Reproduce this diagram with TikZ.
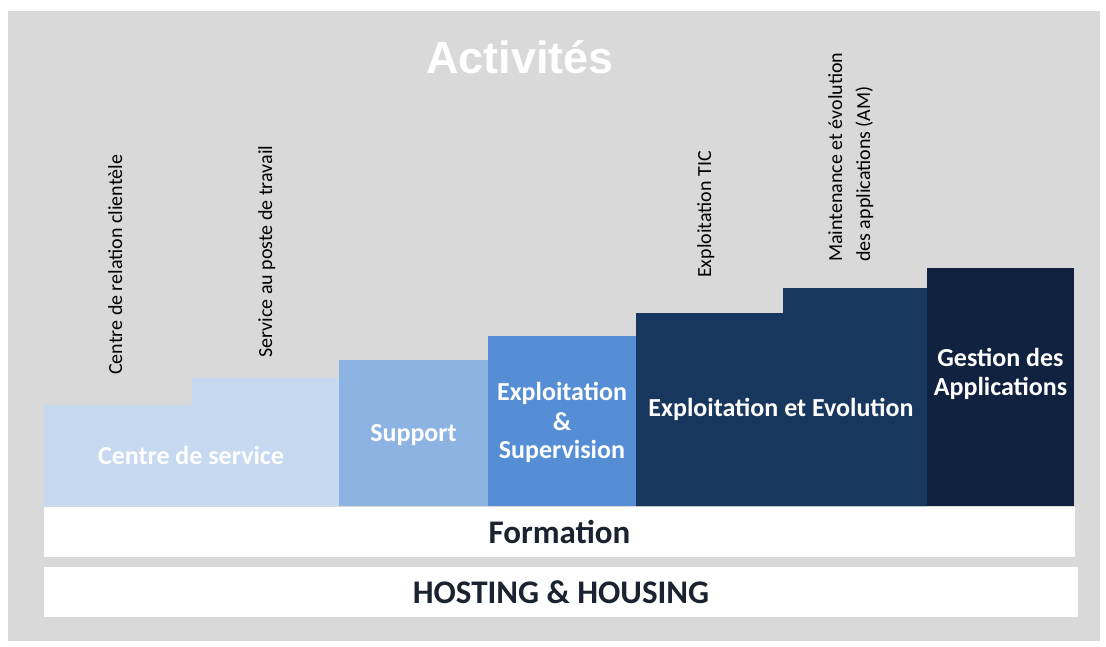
\documentclass[tikz,border=0pt]{standalone}
\usepackage{fontspec}
\setmainfont{Carlito}
\newfontfamily\titlefont{Liberation Sans}
\definecolor{panel}{HTML}{D9D9D9}
\definecolor{cds}{HTML}{C6D9F1}
\definecolor{sup}{HTML}{8DB3E2}
\definecolor{expsup}{HTML}{558ED5}
\definecolor{expevo}{HTML}{17375E}
\definecolor{gest}{HTML}{10223F}
\definecolor{darktext}{HTML}{1B2230}
\begin{document}
\begin{tikzpicture}[x=1pt,y=-1pt,
  boxtext/.style={font=\fontsize{26}{29}\selectfont\bfseries, text=white, inner sep=0pt, anchor=base, align=center},
  bartext/.style={font=\fontsize{33}{36}\selectfont\bfseries, text=darktext, inner sep=0pt, anchor=base},
  vlabel/.style={font=\fontsize{20}{28}\selectfont, text=black, inner sep=0pt, rotate=90}
]
\path[use as bounding box] (0,0) rectangle (1106,646);
\fill[white] (0,0) rectangle (1106,646);
\fill[panel] (8,11) rectangle (1100,641);
% activity blocks
\fill[cds] (44,506) -- (44,405) -- (192,405) -- (192,378) -- (339,378) -- (339,506) -- cycle;
\fill[sup] (339,360) rectangle (488,506);
\fill[expsup] (488,336) rectangle (636,506);
\fill[expevo] (636,506) -- (636,313) -- (783,313) -- (783,288) -- (927,288) -- (927,506) -- cycle;
\fill[gest] (927,268) rectangle (1074,506);
% bars
\fill[white] (44,507) rectangle (1075,557);
\fill[white] (44,567) rectangle (1078,617);
% texts
\node[font=\titlefont\fontsize{45}{50}\selectfont\bfseries, text=white, inner sep=0pt, anchor=base] (title) at (520,73) {Activités};
\node[boxtext] (tcds) at (191,464) {Centre de service};
\node[boxtext] (tsup) at (413.5,441) {Support};
\node[boxtext] (texp1) at (562,400) {Exploitation};
\node[boxtext] (texp2) at (562,430) {\&};
\node[boxtext] (texp3) at (562,458) {Supervision};
\node[boxtext] (tevo) at (781,416) {Exploitation et Evolution};
\node[boxtext] (tgest1) at (1000.5,366) {Gestion des};
\node[boxtext] (tgest2) at (1000.5,395) {Applications};
\node[bartext] (tform) at (559.5,543) {Formation};
\node[bartext] (thost) at (561,603) {HOSTING \& HOUSING};
% vertical labels
\node[vlabel, anchor=base west] (crc) at (122,375) {Centre de relation clientèle};
\node[vlabel, anchor=base west] (spt) at (272,358) {Service au poste de travail};
\node[vlabel, anchor=base west] (tic) at (711,278) {Exploitation TIC};
\node[vlabel, anchor=north west, align=left] (mea) at (828,262) {Maintenance et évolution\\des applications (AM)};
\end{tikzpicture}
\end{document}
